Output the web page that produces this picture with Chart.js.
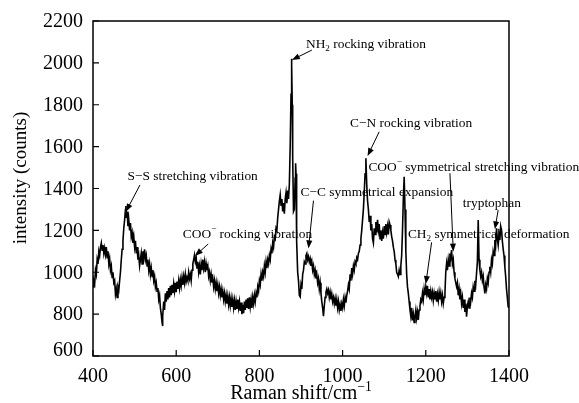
<!DOCTYPE html>
<html><head><meta charset="utf-8">
<script src="https://cdn.jsdelivr.net/npm/chart.js@4.4.1/dist/chart.umd.min.js"></script>
<style>html,body{margin:0;padding:0;background:#fff}</style>
</head><body>
<canvas id="c" width="579" height="403"></canvas>
<script>
const ramanShift = [
400,402,404,406,408,410,412,414,416,418,
420,422,424,426,428,430,432,434,436,438,
440,442,444,446,448,450,452,454,456,458,
460,462,464,466,468,470,472,474,476,478,
479,480,482,484,486,488,490,492,494,496,
498,500,502,504,506,508,510,512,514,516,
518,520,522,524,526,528,530,532,534,536,
538,540,542,544,546,548,550,552,554,556,
558,560,562,564,566,567,568,570,572,574,
576,578,580,582,584,586,588,590,592,594,
596,598,600,602,604,606,608,610,612,614,
616,618,620,622,624,626,628,630,632,634,
636,638,640,642,644,646,648,650,652,654,
656,658,660,662,664,666,668,670,672,674,
676,678,680,682,684,686,688,690,692,694,
696,698,700,702,704,706,708,710,712,714,
716,718,720,722,724,726,728,730,732,734,
736,738,740,742,744,746,748,750,752,754,
756,758,760,762,764,766,768,770,772,774,
776,778,780,782,784,786,788,790,792,794,
796,798,800,802,804,806,808,810,812,814,
816,818,820,822,824,826,828,830,832,834,
836,838,840,842,844,846,848,850,852,854,
856,858,860,862,864,866,868,870,872,874,
876,877,878,879,880,882,884,886,887,888,
889,890,892,894,896,898,900,902,904,906,
908,910,912,914,916,918,920,922,924,926,
928,930,932,934,936,938,940,942,944,946,
948,950,952,954,956,958,960,962,964,966,
968,970,972,974,976,978,980,982,984,986,
988,990,992,994,996,998,1000,1002,1004,1006,
1008,1010,1012,1014,1016,1018,1020,1022,1024,1026,
1028,1030,1032,1034,1036,1038,1040,1042,1044,1046,
1048,1050,1052,1054,1056,1058,1060,1062,1064,1066,
1068,1070,1072,1074,1076,1078,1080,1082,1084,1086,
1088,1090,1092,1094,1096,1098,1100,1102,1104,1106,
1108,1110,1112,1114,1116,1118,1120,1122,1124,1126,
1128,1130,1132,1134,1136,1138,1140,1142,1144,1146,
1148,1150,1152,1154,1156,1158,1160,1162,1164,1166,
1168,1170,1172,1174,1176,1178,1180,1182,1184,1186,
1188,1190,1192,1194,1196,1198,1200,1202,1204,1206,
1208,1210,1212,1214,1216,1218,1220,1222,1224,1226,
1228,1230,1232,1234,1236,1238,1240,1242,1244,1246,
1248,1250,1252,1254,1256,1258,1260,1262,1264,1266,
1268,1270,1272,1274,1276,1278,1280,1282,1284,1286,
1288,1290,1292,1294,1296,1298,1300,1302,1304,1306,
1308,1310,1312,1314,1316,1318,1320,1322,1324,1326,
1328,1330,1332,1334,1336,1338,1340,1342,1344,1346,
1348,1350,1352,1354,1356,1358,1360,1362,1364,1366,
1368,1370,1372,1374,1376,1378,1380,1382,1384,1386,
1388,1390,1392,1394,1396,1398,1400
];
const intensity = [
930,960,945,1010,990,1060,1040,1100,1080,1120,
1140,1105,1130,1090,1115,1085,1120,1070,1100,1040,
1065,1010,1030,975,1000,950,960,895,920,880,
930,915,960,1000,1060,1110,1150,1210,1250,1300,
1316,1260,1290,1220,1250,1200,1235,1170,1190,1140,
1170,1120,1150,1090,1120,1060,1080,1030,1060,1090,
1040,1100,1070,1110,1060,1080,1030,1060,1010,1040,
990,1020,980,1010,960,980,930,950,910,925,
870,890,830,800,760,743,790,860,820,900,
860,910,870,925,880,935,890,940,900,945,
910,950,905,955,920,960,925,965,935,975,
940,980,950,990,955,975,960,1000,970,990,
960,1010,1040,1060,1082,1050,1070,1020,1050,1000,
1030,990,1040,1010,1060,1020,1050,1000,1040,1010,
1030,980,1000,960,990,950,970,930,960,920,
950,910,940,900,930,890,920,880,910,870,
900,860,890,850,885,845,880,840,875,835,
870,830,865,820,860,825,870,830,860,815,
855,800,845,805,860,820,870,830,875,825,
880,835,870,830,880,850,890,860,900,880,
930,910,960,940,990,960,1000,980,1030,1000,
1050,1020,1060,1040,1080,1060,1110,1090,1140,1120,
1170,1160,1210,1200,1260,1300,1340,1370,1320,1350,
1290,1330,1280,1350,1380,1330,1390,1350,1420,1600,
1850,2020,1990,1800,1550,1290,1300,1450,1521,1470,
1300,1150,1000,960,890,883,940,920,990,1010,
1050,1040,1080,1090,1060,1075,1050,1065,1030,1050,
1010,1030,990,1010,970,990,950,970,920,950,
900,860,830,790,840,880,905,920,900,915,
880,905,870,895,860,880,850,875,840,870,
830,860,820,845,815,850,830,870,840,880,
855,890,910,940,920,990,960,1020,990,1030,
1010,1050,1040,1070,1060,1090,1100,1130,1160,1200,
1250,1300,1380,1470,1544,1420,1340,1300,1240,1270,
1200,1230,1160,1140,1210,1180,1240,1190,1250,1200,
1230,1160,1200,1150,1190,1160,1220,1180,1230,1190,
1220,1180,1240,1226,1200,1170,1150,1120,1100,1060,
1040,1000,990,979,1010,990,1030,1080,1200,1350,
1456,1300,1100,990,930,899,860,820,790,830,
770,800,760,790,820,780,810,772,820,840,
870,860,900,870,920,890,930,900,935,880,
920,870,910,880,905,865,900,870,910,860,
895,865,905,870,900,860,890,851,880,900,
1000,1043,1010,1060,1030,1090,1070,1106,1040,1060,
1000,970,950,931,950,890,920,870,900,851,
880,830,870,810,850,788,840,860,830,880,
860,900,880,930,910,960,940,995,1050,1250,
1060,1010,980,1000,960,980,930,899,940,920,
970,950,1000,1026,1000,1060,1040,1100,1080,1154,
1130,1210,1160,1130,1180,1154,1220,1202,1150,1110,
1080,1026,980,920,880,835,830
];
const xTicks = [400, 600, 800, 1000, 1200, 1400];
const yTicks = [600, 800, 1000, 1200, 1400, 1600, 1800, 2000, 2200];
const xTitle = 'Raman shift/cm^{−1}';
const yTitle = 'intensity (counts)';

// annotations (text positions and arrow ends in data units)
const labelText = [
  'S−S stretching vibration',
  'COO^{−} rocking vibration',
  'NH_{2} rocking vibration',
  'C−C symmetrical expansion',
  'C−N rocking vibration',
  'COO^{−} symmetrical stretching vibration',
  'CH_{2} symmetrical deformation',
  'tryptophan'
];
const labelX = [483, 616, 912, 899, 1018, 1062, 1157, 1289];
const labelY = [1461, 1187, 2090, 1383, 1714, 1507, 1183, 1332];
const arrowFromX = [513, 677, 926, 930, 1088, 1258, 1214, 1374];
const arrowFromY = [1417, 1135, 2061, 1342, 1671, 1473, 1143, 1297];
const arrowToX = [479, 645, 878, 918, 1060, 1266, 1200, 1366];
const arrowToY = [1289, 1078, 2014, 1114, 1555, 1098, 944, 1205];

const FONT = '"Liberation Serif", "Times New Roman", serif';

function parseRich(str) {
  const segs = [];
  const re = /([_^])\{([^}]*)\}/g;
  let last = 0, m;
  while ((m = re.exec(str))) {
    if (m.index > last) segs.push({t: str.slice(last, m.index)});
    segs.push({t: m[2], mode: m[1] === '_' ? 'sub' : 'sup'});
    last = re.lastIndex;
  }
  if (last < str.length) segs.push({t: str.slice(last)});
  return segs;
}
function richWidth(ctx, segs, size) {
  let w = 0;
  for (const s of segs) {
    ctx.font = (s.mode ? size * 0.68 : size) + 'px ' + FONT;
    w += ctx.measureText(s.t).width;
  }
  return w;
}
function drawRich(ctx, x, baseline, segs, size) {
  let cx = x;
  ctx.textBaseline = 'alphabetic';
  ctx.textAlign = 'left';
  for (const s of segs) {
    const fs = s.mode ? size * 0.68 : size;
    ctx.font = fs + 'px ' + FONT;
    const dy = s.mode === 'sub' ? size * 0.18 : s.mode === 'sup' ? -size * 0.38 : 0;
    ctx.fillText(s.t, cx, baseline + dy);
    cx += ctx.measureText(s.t).width;
  }
}
function arrow(ctx, x1, y1, x2, y2) {
  const ang = Math.atan2(y2 - y1, x2 - x1);
  const L = 8, W = 3;
  ctx.beginPath();
  ctx.moveTo(x1, y1);
  ctx.lineTo(x2 - Math.cos(ang) * L * 0.8, y2 - Math.sin(ang) * L * 0.8);
  ctx.stroke();
  ctx.beginPath();
  ctx.moveTo(x2, y2);
  ctx.lineTo(x2 - Math.cos(ang) * L - Math.sin(ang) * W, y2 - Math.sin(ang) * L + Math.cos(ang) * W);
  ctx.lineTo(x2 - Math.cos(ang) * L + Math.sin(ang) * W, y2 - Math.sin(ang) * L - Math.cos(ang) * W);
  ctx.closePath();
  ctx.fill();
}

const framePlugin = {
  id: 'frame',
  afterDraw(chart) {
    const {ctx, chartArea: a, scales: {x, y}} = chart;
    ctx.save();
    ctx.strokeStyle = '#000';
    ctx.fillStyle = '#000';
    ctx.lineWidth = 1.5;
    ctx.strokeRect(a.left, a.top, a.right - a.left, a.bottom - a.top);
    // inward ticks
    ctx.lineWidth = 1.2;
    ctx.beginPath();
    for (const v of xTicks) {
      const px = x.getPixelForValue(v);
      ctx.moveTo(px, a.bottom);
      ctx.lineTo(px, a.bottom - 6);
    }
    for (const v of yTicks) {
      const py = y.getPixelForValue(v);
      ctx.moveTo(a.left, py);
      ctx.lineTo(a.left + 6, py);
    }
    ctx.stroke();
    // y tick labels (lowest one nudged up, as in the original)
    ctx.font = '20px ' + FONT;
    ctx.textAlign = 'right';
    ctx.textBaseline = 'middle';
    yTicks.forEach((v, i) => {
      const py = y.getPixelForValue(v) + (i === 0 ? -5 : 1);
      ctx.fillText(String(v), a.left - 10, py);
    });
    // axis titles
    const xs = parseRich(xTitle);
    const xw = richWidth(ctx, xs, 20);
    drawRich(ctx, (a.left + a.right) / 2 - xw / 2, 399, xs, 20);
    ctx.save();
    ctx.translate(21, 178);
    ctx.rotate(-Math.PI / 2);
    ctx.font = '19px ' + FONT;
    ctx.textAlign = 'center';
    ctx.textBaseline = 'middle';
    ctx.fillText(yTitle, 0, 0);
    ctx.restore();
    // annotations
    const fs = 13.4;
    ctx.lineWidth = 1;
    for (let i = 0; i < labelText.length; i++) {
      const segs = parseRich(labelText[i]);
      const tx = x.getPixelForValue(labelX[i]);
      const ty = y.getPixelForValue(labelY[i]);
      drawRich(ctx, tx, ty + fs * 0.33, segs, fs);
      arrow(ctx,
        x.getPixelForValue(arrowFromX[i]), y.getPixelForValue(arrowFromY[i]),
        x.getPixelForValue(arrowToX[i]), y.getPixelForValue(arrowToY[i]));
    }
    ctx.restore();
  }
};

new Chart(document.getElementById('c').getContext('2d'), {
  type: 'line',
  data: {
    datasets: [{
      data: ramanShift.map((v, i) => ({x: v, y: intensity[i]})),
      borderColor: '#000',
      borderWidth: 1.6,
      pointRadius: 0,
      tension: 0,
      fill: false
    }]
  },
  options: {
    responsive: false,
    animation: false,
    devicePixelRatio: 1,
    layout: {padding: {left: 0, right: 70, top: 21, bottom: 0}},
    plugins: {legend: {display: false}, tooltip: {enabled: false}},
    scales: {
      x: {
        type: 'linear', min: 400, max: 1400,
        afterBuildTicks: s => { s.ticks = xTicks.map(v => ({value: v})); },
        afterFit: s => { s.height = 47; },
        grid: {display: false, drawTicks: false},
        border: {display: false},
        ticks: {font: {family: FONT, size: 20}, color: '#000', padding: 9, maxRotation: 0, autoSkip: false,
                callback: v => String(v)}
      },
      y: {
        type: 'linear', min: 600, max: 2200,
        afterBuildTicks: s => { s.ticks = yTicks.map(v => ({value: v})); },
        afterFit: s => { s.width = 93; },
        grid: {display: false, drawTicks: false},
        border: {display: false},
        ticks: {display: false}
      }
    }
  },
  plugins: [framePlugin]
});
</script>
</body></html>
